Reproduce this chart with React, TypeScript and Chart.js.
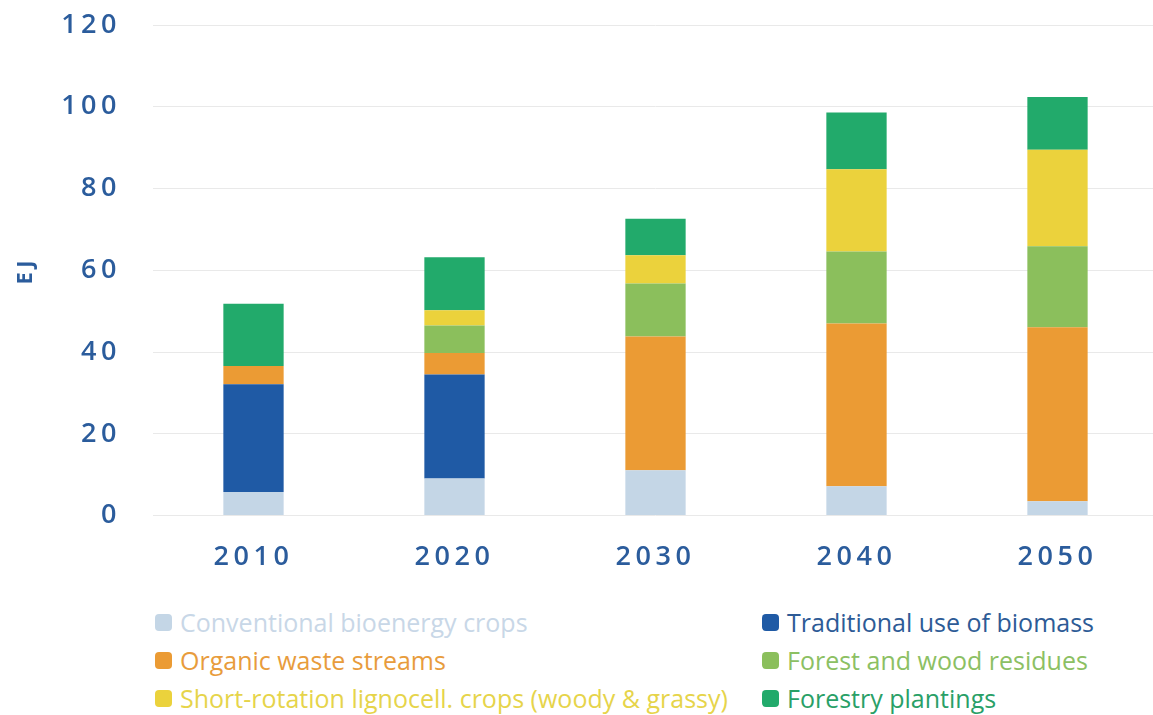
import React, { useEffect, useRef } from "react";
import { Chart, registerables } from "chart.js";

Chart.register(...registerables);

const years = ["2010", "2020", "2030", "2040", "2050"];
const seriesNames = [
  "Conventional bioenergy crops",
  "Traditional use of biomass",
  "Organic waste streams",
  "Forest and wood residues",
  "Short-rotation lignocell. crops (woody & grassy)",
  "Forestry plantings",
];
const conventional = [5.8, 9.1, 11.1, 7.2, 3.5];
const traditional = [26.3, 25.4, 0, 0, 0];
const organicWaste = [4.5, 5.3, 32.7, 39.8, 42.6];
const forestResidues = [0, 6.7, 13.0, 17.6, 19.8];
const shortRotation = [0, 3.7, 6.9, 20.1, 23.6];
const forestryPlantings = [15.2, 13.0, 8.9, 13.9, 12.9];
const yTicks = [0, 20, 40, 60, 80, 100, 120];

const barColors = ["#c4d6e6", "#1f5aa5", "#eb9b34", "#8bbf5c", "#ebd23c", "#22aa6b"];
const textColors = ["#c8d7e7", "#2d5b96", "#e89c3c", "#8cc063", "#e6d44a", "#29a067"];

const spacingPlugin = {
  id: "letterSpacing",
  beforeLayout(chart: any) {
    (chart.ctx as any).letterSpacing = "4.5px";
  },
  beforeDraw(chart: any) {
    (chart.ctx as any).letterSpacing = "4.5px";
  },
};

export default function App() {
  const ref = useRef<HTMLCanvasElement>(null);
  useEffect(() => {
    document.body.style.margin = "0";
    const values = [conventional, traditional, organicWaste, forestResidues, shortRotation, forestryPlantings];
    const chart = new Chart(ref.current!, {
      type: "bar",
      data: {
        labels: years,
        datasets: values.map((v, i) => ({
          label: seriesNames[i],
          data: v,
          backgroundColor: barColors[i],
          borderWidth: 0,
          barPercentage: 0.3,
          categoryPercentage: 1,
        })),
      },
      plugins: [spacingPlugin],
      options: {
        animation: false,
        responsive: false,
        maintainAspectRatio: false,
        layout: { padding: { top: 25, right: 0, left: 0, bottom: 0 } },
        plugins: { legend: { display: false }, tooltip: { enabled: false } },
        scales: {
          x: {
            stacked: true,
            grid: { display: false, drawTicks: false },
            border: { display: false },
            ticks: {
              color: "#2b5c9c",
              padding: 26,
              font: { family: "'Open Sans', sans-serif", size: 27, weight: "600" },
            },
          },
          y: {
            stacked: true,
            min: 0,
            max: 120,
            afterFit(scale: any) {
              scale.width = 153;
              scale.paddingTop = 0;
              scale.paddingBottom = 0;
            },
            afterBuildTicks(scale: any) {
              scale.ticks = yTicks.map((v) => ({ value: v }));
            },
            grid: { color: "#e9e9e9", lineWidth: 1, drawTicks: false },
            border: { display: false },
            ticks: {
              color: "#2b5c9c",
              padding: 32,
              font: { family: "'Open Sans', sans-serif", size: 27, weight: "600" },
            },
            title: {
              display: true,
              text: "EJ",
              color: "#2b5c9c",
              padding: { top: 13, bottom: 0 },
              font: { family: "'Open Sans', sans-serif", size: 22, weight: "bold" },
            },
          },
        },
      },
    });
    return () => chart.destroy();
  }, []);

  const legendRows = [
    [0, 1],
    [2, 3],
    [4, 5],
  ];
  const colLeft = [155, 762];
  const rowTop = [607, 645, 683];

  return (
    <div style={{ position: "absolute", left: 0, top: 0, width: 1153, height: 715, overflow: "hidden", background: "#fff" }}>
      <canvas ref={ref} width={1158} height={600} style={{ position: "absolute", left: 0, top: 0 }} />
      {legendRows.map((row, r) =>
        row.map((idx, c) => (
          <div
            key={idx}
            style={{
              position: "absolute",
              left: colLeft[c],
              top: rowTop[r],
              height: 30,
              display: "flex",
              alignItems: "center",
              whiteSpace: "nowrap",
              fontFamily: "'Open Sans', sans-serif",
              fontSize: 25,
              color: textColors[idx],
            }}
          >
            <span
              style={{
                display: "inline-block",
                width: 17,
                height: 17,
                borderRadius: 4,
                background: barColors[idx],
                marginRight: 8,
                flex: "0 0 auto",
              }}
            />
            {seriesNames[idx]}
          </div>
        ))
      )}
    </div>
  );
}
